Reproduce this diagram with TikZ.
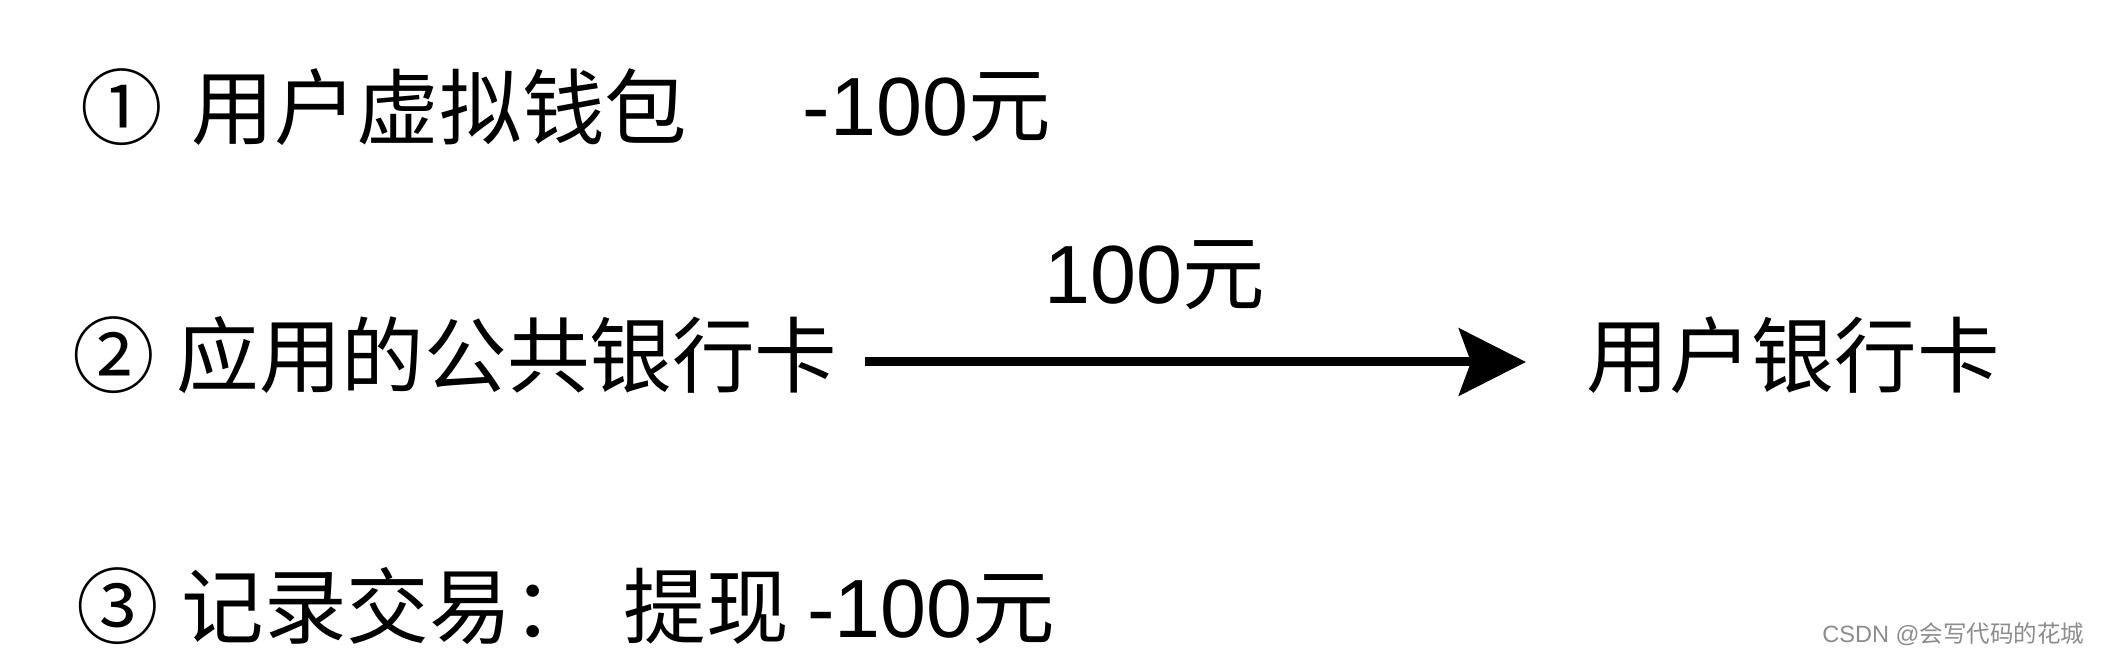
\documentclass[tikz,border=0pt]{standalone}
\usepackage{fontspec}
\setmainfont{Liberation Sans}
\newfontfamily\cjk{Noto Sans CJK SC}
\usetikzlibrary{arrows.meta, positioning}

\begin{document}
\begin{tikzpicture}[
    txt/.style={anchor=west, inner sep=0pt, font=\fontsize{23.5}{28}\selectfont},
    flow/.style={-{Stealth[length=0.67cm, width=0.67cm, inset=0.12cm]}, line width=0.09cm},
    wmark/.style={anchor=east, inner sep=0pt, text=black!45, font=\fontsize{6.7}{8}\selectfont}
]
            \useasboundingbox (0,0) rectangle (21.02,-6.56);

            % Step 1: virtual wallet
            \node[txt] (wallet) at (0.80,-1.07) {\cjk ① \hspace{0.1cm}用户虚拟钱包};
            \node[txt] (walletamt) at (8.02,-1.07) {-100\cjk 元};

            % Step 2: transfer between cards
            \node[txt] (bank) at (0.72,-3.55) {\cjk ② \hspace{0.03cm}应用的公共银行卡};
            \node[txt] (usercard) at (15.86,-3.55) {\cjk 用户银行卡};
            \draw[flow, shorten <=0.27cm, shorten >=0.6cm]
                ([yshift=-0.07cm]bank.east) -- ([yshift=-0.07cm]usercard.west);
            \node[txt, anchor=center] (amount) at (11.55,-2.75) {100\cjk 元};

            % Step 3: record
            \node[txt] (record) at (0.76,-6.06) {\cjk ③ \hspace{0.04cm}记录交易：};
            \node[txt] (recordamt) at (6.23,-6.06) {\cjk 提现 \rmfamily -100\cjk 元};

            % Watermark
            \node[wmark] (wm) at (20.85,-6.34) {CSDN @\cjk 会写代码的花城};
        \end{tikzpicture}
\end{document}
